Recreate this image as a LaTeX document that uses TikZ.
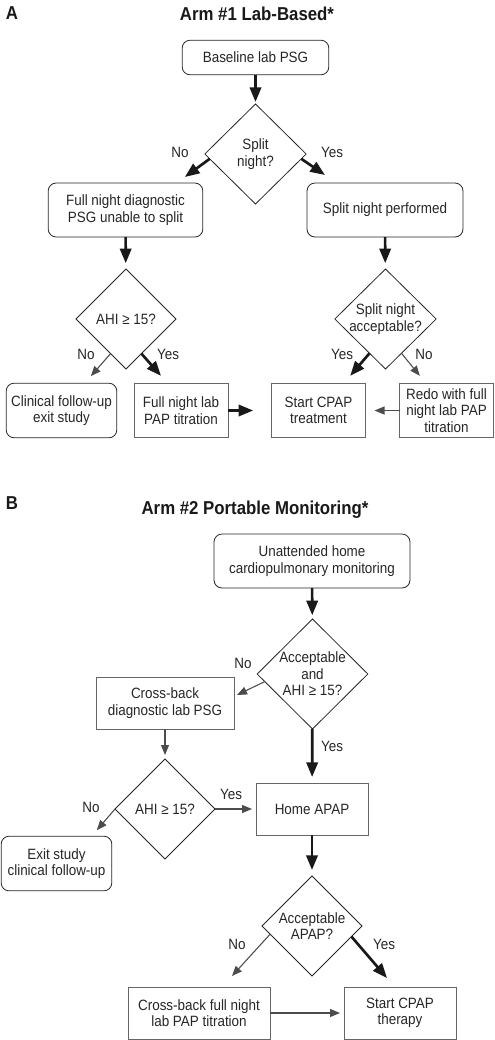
\documentclass[tikz,border=0pt]{standalone}
\usepackage{fontspec}
\setmainfont{Liberation Sans}[FakeStretch=0.9]
\usepackage{tikz}
\usetikzlibrary{arrows.meta,shapes.geometric,calc}

\begin{document}
\begin{tikzpicture}[x=0.75pt,y=-0.75pt,
  every node/.style={font=\fontsize{11.2}{12.3}\selectfont,text=black!85,align=center,outer sep=0pt},
  roundbox/.style={draw=black!85,rounded corners=6pt,inner sep=2pt,line width=0.6pt},
  sqbox/.style={draw=black!60,inner sep=2pt,line width=0.7pt},
  decision/.style={draw=black!85,diamond,inner sep=-3pt,line width=0.6pt},
  heading/.style={font=\fontsize{14}{16}\selectfont\bfseries,text=black!90},
  bigarrow/.style={draw=black!90,line width=2pt,-{Triangle[length=11pt,width=8.5pt]}},
  smallarrow/.style={draw=black!70,line width=0.8pt,-{Triangle[length=7.5pt,width=6pt]}}]
 \useasboundingbox (0,0) rectangle (494,1040);

 % Arm 1
 \node[heading] (labA) at (12,13) {A};
 \node[heading] (titleA) at (257,14) {Arm \#1 Lab-Based*};
 \node[roundbox,minimum width=110pt,minimum height=26pt] (base) at (255.5,57.5) {Baseline lab PSG};
 \node[decision,minimum width=76pt,minimum height=75pt] (split) at (255.5,154) {Split\\night?};
 \node[roundbox,minimum width=116pt,minimum height=40.5pt] (fullnight) at (125.5,210) {Full night diagnostic\\PSG unable to split};
 \node[roundbox,minimum width=117pt,minimum height=40.5pt] (splitdone) at (385,210) {Split night performed};
 \node[decision,minimum width=75pt,minimum height=75pt] (ahiA) at (126,319) {AHI ≥ 15?};
 \node[decision,minimum width=76pt,minimum height=75pt] (splitok) at (385.5,319) {Split night\\acceptable?};
 \node[roundbox,minimum width=83pt,minimum height=41pt] (clinical) at (61.5,410.5) {Clinical follow-up\\exit study};
 \node[sqbox,minimum width=70.5pt,minimum height=40pt] (titr) at (181,410.5) {Full night lab\\PAP titration};
 \node[sqbox,minimum width=70pt,minimum height=40pt] (cpapA) at (318.5,410.5) {Start CPAP\\treatment};
 \node[sqbox,minimum width=70pt,minimum height=40pt] (redo) at (446.5,410.5) {Redo with full\\night lab PAP\\titration};
 \node (noA1) at (180,152) {No};
 \node (yesA1) at (332,152) {Yes};
 \node (noA2) at (86,354) {No};
 \node (yesA2) at (168,354) {Yes};
 \node (yesA3) at (342,354) {Yes};
 \node (noA3) at (424,354) {No};

 \draw[bigarrow,shorten >=1.5pt] (base) -- (split);
 \draw[bigarrow] (split.186) -- ($(fullnight.north east)+(-18,-6)$);
 \draw[bigarrow] (split.354) -- ($(splitdone.north west)+(18,-8)$);
 \draw[bigarrow,shorten >=4.5pt] (fullnight) -- (ahiA);
 \draw[bigarrow,shorten >=4.5pt] (splitdone) -- (splitok);
 \draw[smallarrow] (ahiA.246) -- ($(clinical.north east)+(-26,-7)$);
 \draw[bigarrow] (ahiA.294) -- ($(titr.north west)+(27,-8)$);
 \draw[bigarrow] (splitok.245) -- ($(cpapA.north east)+(-15,-8)$);
 \draw[smallarrow] (splitok.295) -- ($(redo.north west)+(20,-8)$);
 \draw[bigarrow,shorten >=14pt] (titr) -- (cpapA);
 \draw[smallarrow,shorten >=7pt] (redo) -- (cpapA);

 % Arm 2
 \node[heading] (labB) at (12,503) {B};
 \node[heading] (titleB) at (255,510) {Arm \#2 Portable Monitoring*};
 \node[roundbox,minimum width=147pt,minimum height=40.5pt] (home) at (312,561) {Unattended home\\cardiopulmonary monitoring};
 \node[decision,minimum width=83pt,minimum height=82.5pt] (acc) at (312.5,674) {Acceptable\\and\\AHI ≥ 15?};
 \node[sqbox,minimum width=103.5pt,minimum height=39pt] (cross) at (165,703) {Cross-back\\diagnostic lab PSG};
 \node[decision,minimum width=75pt,minimum height=75pt] (ahiB) at (165,809) {AHI ≥ 15?};
 \node[sqbox,minimum width=84pt,minimum height=39pt] (apap) at (312,809) {Home APAP};
 \node[roundbox,minimum width=83pt,minimum height=41pt] (exit) at (56.5,863.5) {Exit study\\clinical follow-up};
 \node[decision,minimum width=75pt,minimum height=75pt] (accapap) at (312,926) {Acceptable\\APAP?};
 \node[sqbox,minimum width=106.5pt,minimum height=39pt] (crossfull) at (199,1013) {Cross-back full night\\lab PAP titration};
 \node[sqbox,minimum width=84pt,minimum height=39pt] (cpapB) at (400,1013) {Start CPAP\\therapy};
 \node (noB1) at (243,663) {No};
 \node (yesB1) at (332,746) {Yes};
 \node (noB2) at (91,807) {No};
 \node (yesB2) at (231,794) {Yes};
 \node (noB3) at (237,944) {No};
 \node (yesB3) at (384,944) {Yes};

 \draw[bigarrow,shorten >=3pt] (home) -- (acc);
 \draw[smallarrow] (acc.189) -- ($(cross.north east)+(3,18)$);
 \draw[bigarrow,shorten >=4.5pt] (acc) -- (apap);
 \draw[smallarrow,shorten >=3pt] (cross) -- (ahiB);
 \draw[smallarrow] (ahiB.west) -- ($(exit.north east)+(-15,-6)$);
 \draw[smallarrow,shorten >=3pt] (ahiB) -- (apap);
 \draw[bigarrow,shorten >=4.5pt] (apap) -- (accapap);
 \draw[smallarrow] (accapap.191) -- ($(crossfull.north east)+(-38,-11)$);
 \draw[bigarrow] (accapap.345) -- ($(cpapB.north west)+(43,-9)$);
 \draw[smallarrow,shorten >=3pt] (crossfull) -- (cpapB);
\end{tikzpicture}
\end{document}
